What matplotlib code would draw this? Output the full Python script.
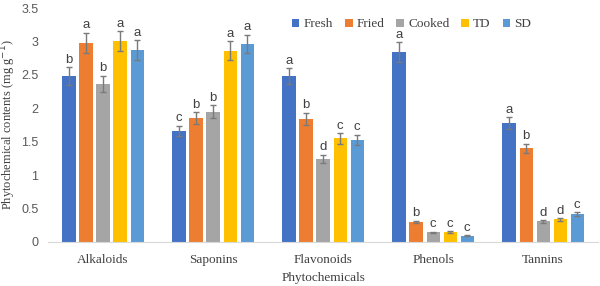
import matplotlib
matplotlib.use("Agg")
import matplotlib.pyplot as plt
import numpy as np

categories = ["Alkaloids", "Saponins", "Flavonoids", "Phenols", "Tannins"]
series = ["Fresh", "Fried", "Cooked", "TD", "SD"]
colors = ["#4472C4", "#ED7D31", "#A5A5A5", "#FFC000", "#5B9BD5"]

fresh = [2.48, 1.66, 2.48, 2.84, 1.78]
fried = [2.98, 1.85, 1.84, 0.30, 1.40]
cooked = [2.37, 1.95, 1.24, 0.145, 0.31]
td = [3.00, 2.86, 1.55, 0.15, 0.34]
sd = [2.87, 2.96, 1.53, 0.095, 0.42]

fresh_err = [0.13, 0.08, 0.12, 0.15, 0.09]
fried_err = [0.15, 0.09, 0.095, 0.02, 0.07]
cooked_err = [0.12, 0.10, 0.065, 0.01, 0.02]
td_err = [0.15, 0.14, 0.08, 0.01, 0.02]
sd_err = [0.15, 0.14, 0.075, 0.01, 0.025]

fresh_lbl = ["b", "c", "a", "a", "a"]
fried_lbl = ["a", "b", "b", "b", "b"]
cooked_lbl = ["b", "b", "d", "c", "d"]
td_lbl = ["a", "a", "c", "c", "d"]
sd_lbl = ["a", "a", "c", "c", "c"]

values = [fresh, fried, cooked, td, sd]
errors = [fresh_err, fried_err, cooked_err, td_err, sd_err]
letters = [fresh_lbl, fried_lbl, cooked_lbl, td_lbl, sd_lbl]

serif = "Liberation Serif"
sans = "Liberation Sans"

fig = plt.figure(figsize=(6, 2.86), dpi=100)
ax = fig.add_axes([0.08, 0.154, 0.917, 0.818])

x = np.arange(len(categories))
step = 0.155
width = 0.12
for i, s in enumerate(series):
    pos = x + (i - 2) * step
    ax.bar(pos, values[i], width, color=colors[i], label=s, zorder=2)
    ax.errorbar(pos, values[i], yerr=errors[i], fmt="none", ecolor="#7a7a7a",
                elinewidth=1, capsize=2.5, capthick=1, zorder=3)
    for p, v, e, t in zip(pos, values[i], errors[i], letters[i]):
        ax.text(p, v + e + 0.02, t, ha="center", va="bottom", fontsize=9.5,
                family=sans, color="#404040")

ax.set_xlim(-0.5, 4.5)
ax.set_ylim(0, 3.5)
ax.set_yticks(np.arange(0, 3.51, 0.5))
ax.set_yticklabels(["0", "0.5", "1", "1.5", "2", "2.5", "3", "3.5"],
                   family=sans, fontsize=9, color="#595959")
ax.set_xticks(x)
ax.set_xticklabels(categories, family=serif, fontsize=9.5, color="#404040")
ax.tick_params(axis="y", length=0, pad=7)
ax.tick_params(axis="x", length=0, pad=9)
for sp in ["top", "right", "left"]:
    ax.spines[sp].set_visible(False)
ax.spines["bottom"].set_color("#d9d9d9")

ax.set_ylabel("Phytochemical contents (mg g$^{-1}$)", family=serif,
              fontsize=9, color="#404040")
ax.yaxis.set_label_coords(-0.054, 0.5)
ax.set_xlabel("Phytochemicals", family=serif, fontsize=9.5, color="#404040",
              labelpad=4)

leg = ax.legend(loc="center right", bbox_to_anchor=(0.9, 0.93), ncol=5,
                frameon=False, handlelength=0.6, handleheight=0.6,
                handletextpad=0.3, columnspacing=0.9,
                prop={"family": serif, "size": 9.5})
for t in leg.get_texts():
    t.set_color("#404040")

fig.savefig("out.png", dpi=100)
